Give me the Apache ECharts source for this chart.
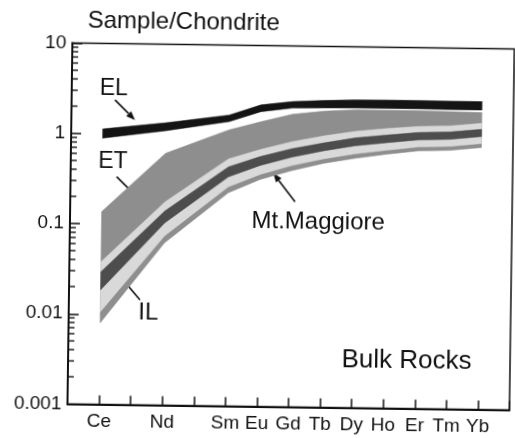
<!DOCTYPE html>
<html>
<head>
<meta charset="utf-8">
<script src="https://cdn.jsdelivr.net/npm/echarts@6/dist/echarts.min.js"></script>
<style>
  html, body { margin: 0; padding: 0; background: #fff; overflow: hidden; }
  /* the scanned figure is tilted slightly clockwise */
  #chart { width: 515px; height: 438px; transform: rotate(0.78deg); transform-origin: 257px 219px; }
</style>
</head>
<body>
<div id="chart"></div>
<script>
// REE / chondrite, bulk rocks
const tickLabels = ['Ce', '', 'Nd', '', 'Sm', 'Eu', 'Gd', 'Tb', 'Dy', 'Ho', 'Er', 'Tm', 'Yb'];
const elementPos = [0, 2, 4, 5, 6, 7, 8, 9, 10, 11, 12]; // Ce Nd Sm Eu Gd Tb Dy Ho Er Tm Yb

// EL (black band)
const elLow  = [0.89, 1.10, 1.42, 1.85, 2.05, 2.08, 2.10, 2.10, 2.10, 2.08, 2.08];
const elHigh = [1.13, 1.35, 1.68, 2.20, 2.42, 2.52, 2.58, 2.60, 2.60, 2.58, 2.58];
// ET (medium grey field)
const etLow  = [0.0080, 0.0629, 0.231, 0.328, 0.416, 0.505, 0.581, 0.653, 0.718, 0.737, 0.799];
const etHigh = [0.137, 0.62, 1.15, 1.43, 1.75, 1.92, 2.00, 2.00, 2.00, 1.98, 1.95];
// Mt.Maggiore (light field)
const mmLow  = [0.0106, 0.0752, 0.269, 0.373, 0.473, 0.567, 0.652, 0.723, 0.795, 0.816, 0.884];
const mmHigh = [0.038, 0.179, 0.549, 0.705, 0.869, 1.017, 1.156, 1.256, 1.340, 1.372, 1.485];
// IL (dark grey band)
const ilLow  = [0.0186, 0.1047, 0.347, 0.469, 0.587, 0.695, 0.799, 0.875, 0.950, 0.975, 1.056];
const ilHigh = [0.0294, 0.142, 0.448, 0.590, 0.727, 0.851, 0.980, 1.064, 1.150, 1.178, 1.275];

// minor ticks of the log axis
const minorTicks = [
  0.002, 0.003, 0.004, 0.005, 0.006, 0.007, 0.008, 0.009,
  0.02, 0.03, 0.04, 0.05, 0.06, 0.07, 0.08, 0.09,
  0.2, 0.3, 0.4, 0.5, 0.6, 0.7, 0.8, 0.9,
  2, 3, 4, 5, 6, 7, 8, 9
];

const FONT = '"Liberation Sans", Arial, sans-serif';
const INK = '#111';

// one polygon per field, upper edge left->right then lower edge back
function bandSeries(name, low, high, color, z) {
  return {
    name: name,
    type: 'custom',
    z: z,
    silent: true,
    data: elementPos.map((x, i) => [x, low[i], high[i]]),
    encode: { x: 0, y: [1, 2] },
    renderItem: function (params, api) {
      if (params.dataIndex !== 0) return null;
      const pts = [];
      for (let i = 0; i < elementPos.length; i++) pts.push(api.coord([elementPos[i], high[i]]));
      for (let i = elementPos.length - 1; i >= 0; i--) pts.push(api.coord([elementPos[i], low[i]]));
      return { type: 'polygon', shape: { points: pts }, style: { fill: color, stroke: color, lineWidth: 0.5 } };
    }
  };
}

function arrow(x1, y1, x2, y2) {
  const a = Math.atan2(y2 - y1, x2 - x1);
  const L = 9, W = 3.5;
  const bx = x2 - L * Math.cos(a), by = y2 - L * Math.sin(a);
  return [
    { type: 'line', shape: { x1: x1, y1: y1, x2: bx, y2: by }, style: { stroke: INK, lineWidth: 1.6 } },
    { type: 'polygon', shape: { points: [[x2, y2], [bx + W * Math.sin(a), by - W * Math.cos(a)], [bx - W * Math.sin(a), by + W * Math.cos(a)]] }, style: { fill: INK } }
  ];
}

function label(text, x, y, size) {
  return { type: 'text', x: x, y: y, style: { text: text, font: size + 'px ' + FONT, fill: INK, align: 'left', verticalAlign: 'middle' } };
}

const chart = echarts.init(document.getElementById('chart'));
chart.setOption({
  backgroundColor: '#fff',
  animation: false,
  grid: { left: 70, top: 45.5, width: 447, height: 361, show: true, borderColor: INK, borderWidth: 1.5, backgroundColor: 'transparent' },
  xAxis: {
    type: 'value',
    min: -1, max: 13, interval: 1,
    splitLine: { show: false },
    axisLine: { onZero: false, lineStyle: { color: INK, width: 2 } },
    axisTick: { inside: true, length: 9, lineStyle: { color: INK, width: 1.5 } },
    axisLabel: {
      color: INK, fontFamily: FONT, fontSize: 19, margin: 8,
      formatter: function (v) { return tickLabels[v] || ''; }
    }
  },
  yAxis: {
    type: 'log', logBase: 10,
    min: 0.001, max: 10,
    splitLine: { show: false },
    axisLine: { onZero: false, lineStyle: { color: INK, width: 2 } },
    axisTick: { inside: true, length: 10, lineStyle: { color: INK, width: 1.5 } },
    axisLabel: { color: INK, fontFamily: FONT, fontSize: 19, margin: 6 }
  },
  series: [
    bandSeries('ET', etLow, etHigh, '#8e8e8e', 1),
    bandSeries('Mt.Maggiore', mmLow, mmHigh, '#d9d9d9', 2),
    bandSeries('IL', ilLow, ilHigh, '#4d4d4d', 3),
    bandSeries('EL', elLow, elHigh, '#141414', 4),
    {
      type: 'custom',
      silent: true,
      z: 5,
      data: minorTicks.map(v => [-1, v]),
      renderItem: function (params, api) {
        const p = api.coord([api.value(0), api.value(1)]);
        return { type: 'line', shape: { x1: p[0], y1: p[1], x2: p[0] + 6, y2: p[1] }, style: { stroke: INK, lineWidth: 1.4 } };
      }
    }
  ],
  graphic: [
    label('Sample/Chondrite', 85, 23.5, 24),
    label('EL', 98, 91, 23),
    label('ET', 97.5, 163.5, 23),
    label('Mt.Maggiore', 251.5, 221, 24),
    label('IL', 139.5, 314, 24),
    label('Bulk Rocks', 343.5, 359, 26)
  ]
    .concat(arrow(113.4, 101.9, 133.7, 121.7))
    .concat(arrow(116.1, 178.6, 138.0, 199.9))
    .concat(arrow(294.8, 201.2, 272.7, 173.1))
    .concat(arrow(141.1, 301.6, 118.0, 274.9))
});
</script>
</body>
</html>
